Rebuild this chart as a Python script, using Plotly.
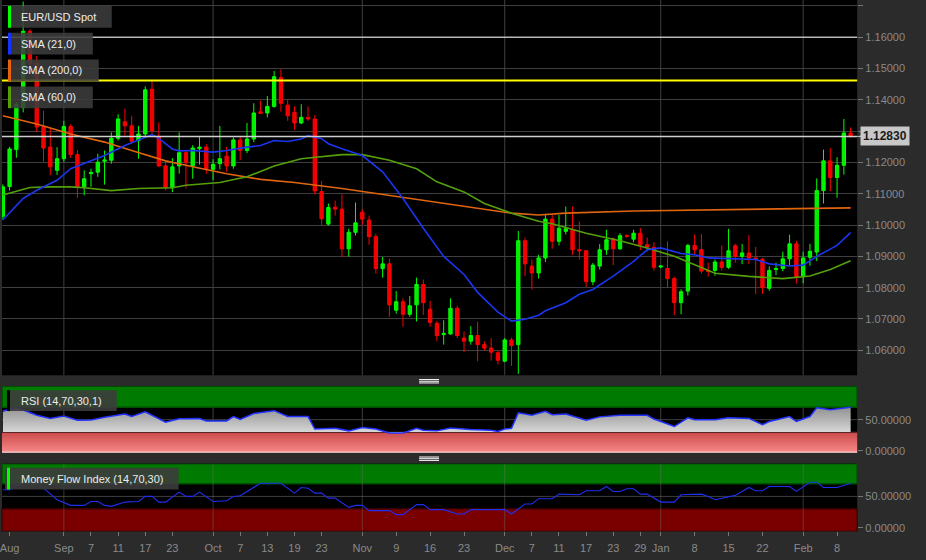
import plotly.graph_objects as go
import pandas as pd

# ---------------- data ----------------
dates = [d.strftime("%Y-%m-%d") for d in pd.bdate_range("2015-08-19", "2016-02-10")]

open_ = [1.1028, 1.1123, 1.1241, 1.1375, 1.1619, 1.1518, 1.1314, 1.1249, 1.1175, 1.1212,
         1.1315, 1.1225, 1.1122, 1.1164, 1.1169, 1.1204, 1.1207, 1.1277, 1.1330, 1.1317,
         1.1270, 1.1291, 1.1434, 1.1284, 1.1189, 1.1119, 1.1189, 1.1231, 1.1189, 1.1244,
         1.1249, 1.1178, 1.1196, 1.1220, 1.1189, 1.1272, 1.1238, 1.1275, 1.1362, 1.1358,
         1.1379, 1.1471, 1.1383, 1.1360, 1.1326, 1.1344, 1.1339, 1.1107, 1.1003, 1.1057,
         1.1051, 1.0924, 1.0977, 1.1041, 1.1016, 1.0963, 1.0861, 1.0876, 1.0728, 1.0755,
         1.0715, 1.0745, 1.0810, 1.0731, 1.0686, 1.0650, 1.0652, 1.0734, 1.0639, 1.0629,
         1.0647, 1.0618, 1.0607, 1.0592, 1.0565, 1.0633, 1.0618, 1.0950, 1.0869, 1.0847,
         1.0895, 1.1019, 1.0948, 1.0980, 1.0985, 1.0921, 1.0918, 1.0819, 1.0869, 1.0921,
         1.0956, 1.0924, 1.0966, 1.0955, 1.0974, 1.0937, 1.0929, 1.0866, 1.0861, 1.0829,
         1.0752, 1.0789, 1.0935, 1.0921, 1.0856, 1.0855, 1.0882, 1.0865, 1.0934, 1.0900,
         1.0911, 1.0895, 1.0890, 1.0798, 1.0858, 1.0861, 1.0892, 1.0940, 1.0835, 1.0897,
         1.0914, 1.1110, 1.1205, 1.1152, 1.1191, 1.1294]
high = [1.1130, 1.1250, 1.1392, 1.1714, 1.1626, 1.1540, 1.1365, 1.1312, 1.1249, 1.1333,
        1.1322, 1.1240, 1.1175, 1.1180, 1.1228, 1.1238, 1.1296, 1.1354, 1.1372, 1.1349,
        1.1317, 1.1443, 1.1460, 1.1328, 1.1200, 1.1214, 1.1296, 1.1240, 1.1255, 1.1281,
        1.1258, 1.1210, 1.1317, 1.1250, 1.1280, 1.1285, 1.1326, 1.1389, 1.1397, 1.1412,
        1.1492, 1.1497, 1.1400, 1.1379, 1.1386, 1.1379, 1.1351, 1.1141, 1.1069, 1.1078,
        1.1098, 1.0988, 1.1072, 1.1051, 1.1030, 1.0972, 1.0898, 1.0893, 1.0789, 1.0766,
        1.0773, 1.0832, 1.0826, 1.0758, 1.0694, 1.0696, 1.0766, 1.0742, 1.0660, 1.0677,
        1.0692, 1.0629, 1.0639, 1.0599, 1.0639, 1.0640, 1.0981, 1.0960, 1.0890, 1.0905,
        1.1032, 1.1032, 1.1032, 1.1059, 1.1059, 1.1011, 1.0920, 1.0879, 1.0939, 1.0985,
        1.0960, 1.0974, 1.0970, 1.0985, 1.0990, 1.0960, 1.0945, 1.0872, 1.0948, 1.0835,
        1.0795, 1.0940, 1.0970, 1.0971, 1.0880, 1.0890, 1.0935, 1.0988, 1.0940, 1.0940,
        1.0968, 1.0930, 1.0895, 1.0868, 1.0880, 1.0915, 1.0969, 1.0950, 1.0915, 1.0940,
        1.1149, 1.1241, 1.1246, 1.1217, 1.1339, 1.1312]
low = [1.1018, 1.1110, 1.1215, 1.1360, 1.1505, 1.1297, 1.1203, 1.1159, 1.1160, 1.1202,
       1.1215, 1.1087, 1.1095, 1.1122, 1.1154, 1.1129, 1.1196, 1.1270, 1.1286, 1.1259,
       1.1212, 1.1280, 1.1291, 1.1185, 1.1111, 1.1105, 1.1164, 1.1117, 1.1148, 1.1193,
       1.1164, 1.1143, 1.1178, 1.1170, 1.1180, 1.1207, 1.1230, 1.1265, 1.1355, 1.1344,
       1.1375, 1.1362, 1.1333, 1.1305, 1.1323, 1.1333, 1.1098, 1.0999, 1.0999, 1.1030,
       1.0897, 1.0899, 1.0967, 1.1000, 1.0937, 1.0845, 1.0832, 1.0707, 1.0717, 1.0675,
       1.0707, 1.0692, 1.0713, 1.0675, 1.0629, 1.0618, 1.0650, 1.0639, 1.0594, 1.0618,
       1.0565, 1.0599, 1.0567, 1.0555, 1.0562, 1.0550, 1.0524, 1.0837, 1.0794, 1.0829,
       1.0882, 1.0924, 1.0935, 1.0970, 1.0905, 1.0890, 1.0802, 1.0808, 1.0858, 1.0905,
       1.0872, 1.0921, 1.0960, 1.0945, 1.0920, 1.0915, 1.0855, 1.0862, 1.0800, 1.0712,
       1.0715, 1.0775, 1.0905, 1.0845, 1.0835, 1.0838, 1.0855, 1.0860, 1.0880, 1.0875,
       1.0875, 1.0779, 1.0780, 1.0790, 1.0840, 1.0852, 1.0870, 1.0813, 1.0814, 1.0870,
       1.0885, 1.1069, 1.1108, 1.1087, 1.1161, 1.1278]
close = [1.1122, 1.1243, 1.1386, 1.1619, 1.1518, 1.1313, 1.1246, 1.1186, 1.1212, 1.1315,
         1.1225, 1.1122, 1.1148, 1.1168, 1.1201, 1.1208, 1.1277, 1.1339, 1.1317, 1.1268,
         1.1291, 1.1432, 1.1302, 1.1189, 1.1119, 1.1186, 1.1231, 1.1199, 1.1246, 1.1249,
         1.1180, 1.1194, 1.1212, 1.1189, 1.1272, 1.1238, 1.1275, 1.1358, 1.1357, 1.1379,
         1.1474, 1.1389, 1.1349, 1.1326, 1.1344, 1.1339, 1.1109, 1.1020, 1.1056, 1.1051,
         1.0924, 1.0977, 1.1007, 1.1019, 1.0963, 1.0861, 1.0876, 1.0745, 1.0755, 1.0715,
         1.0742, 1.0810, 1.0752, 1.0689, 1.0647, 1.0654, 1.0734, 1.0647, 1.0629, 1.0647,
         1.0618, 1.0607, 1.0594, 1.0568, 1.0633, 1.0615, 1.0950, 1.0876, 1.0847, 1.0895,
         1.1019, 1.0948, 1.0990, 1.0988, 1.0921, 1.0918, 1.0819, 1.0872, 1.0921, 1.0953,
         1.0924, 1.0966, 1.0964, 1.0974, 1.0937, 1.0929, 1.0865, 1.0869, 1.0829, 1.0752,
         1.0787, 1.0935, 1.0921, 1.0853, 1.0852, 1.0882, 1.0865, 1.0918, 1.0900, 1.0911,
         1.0895, 1.0890, 1.0800, 1.0855, 1.0861, 1.0892, 1.0940, 1.0835, 1.0895, 1.0916,
         1.1110, 1.1205, 1.1152, 1.1191, 1.1294, 1.1283]

sma21_dates = ["2015-08-19", "2015-08-24", "2015-08-26", "2015-08-31", "2015-09-02", "2015-09-07",
               "2015-09-09", "2015-09-14", "2015-09-16", "2015-09-18", "2015-09-21", "2015-09-23",
               "2015-09-24", "2015-09-28", "2015-10-01", "2015-10-05", "2015-10-08", "2015-10-12",
               "2015-10-14", "2015-10-16", "2015-10-20", "2015-10-21", "2015-10-23", "2015-10-26",
               "2015-10-28", "2015-11-02", "2015-11-05", "2015-11-10", "2015-11-13", "2015-11-18",
               "2015-11-23", "2015-11-25", "2015-11-30", "2015-12-02", "2015-12-04", "2015-12-08",
               "2015-12-09", "2015-12-14", "2015-12-16", "2015-12-18", "2015-12-23", "2015-12-28",
               "2015-12-30", "2016-01-01", "2016-01-06", "2016-01-08", "2016-01-12", "2016-01-18",
               "2016-01-21", "2016-01-25", "2016-01-28", "2016-02-01", "2016-02-03", "2016-02-08",
               "2016-02-10"]
sma21_vals = [1.1016, 1.1085, 1.1111, 1.1143, 1.1180, 1.1204, 1.1222, 1.1254, 1.1272, 1.1289,
              1.1277, 1.1243, 1.1237, 1.1238, 1.1233, 1.1238, 1.1249, 1.1254, 1.1270, 1.1267,
              1.1275, 1.1286, 1.1276, 1.1260, 1.1244, 1.1222, 1.1170, 1.1085, 1.0990, 1.0900,
              1.0842, 1.0785, 1.0722, 1.0693, 1.0699, 1.0712, 1.0726, 1.0752, 1.0779, 1.0794,
              1.0837, 1.0884, 1.0921, 1.0927, 1.0909, 1.0905, 1.0895, 1.0893, 1.0890, 1.0876,
              1.0869, 1.0872, 1.0900, 1.0935, 1.0976]

sma60_dates = ["2015-08-19", "2015-08-21", "2015-08-25", "2015-08-28", "2015-09-02", "2015-09-04",
               "2015-09-10", "2015-09-16", "2015-09-23", "2015-09-25", "2015-10-02", "2015-10-08",
               "2015-10-14", "2015-10-20", "2015-10-26", "2015-10-28", "2015-11-02", "2015-11-06",
               "2015-11-12", "2015-11-17", "2015-11-23", "2015-11-26", "2015-12-02", "2015-12-08",
               "2015-12-10", "2015-12-17", "2015-12-24", "2015-12-30", "2016-01-05", "2016-01-11",
               "2016-01-13", "2016-01-20", "2016-01-27", "2016-02-02", "2016-02-05", "2016-02-10"]
sma60_vals = [1.1096, 1.1108, 1.1120, 1.1122, 1.1122, 1.1119, 1.1110, 1.1117, 1.1119, 1.1127,
              1.1136, 1.1154, 1.1189, 1.1212, 1.1220, 1.1225, 1.1225, 1.1207, 1.1180, 1.1138,
              1.1106, 1.1069, 1.1038, 1.1012, 1.1004, 1.0974, 1.0950, 1.0927, 1.0900, 1.0863,
              1.0846, 1.0836, 1.0829, 1.0837, 1.0858, 1.0886]

sma200_dates = ["2015-08-19", "2015-08-26", "2015-09-02", "2015-09-09", "2015-09-15", "2015-09-22",
                "2015-09-28", "2015-10-05", "2015-10-12", "2015-10-19", "2015-10-28", "2015-11-12",
                "2015-11-25", "2015-12-02", "2015-12-08", "2015-12-14", "2015-12-28", "2016-01-11",
                "2016-01-25", "2016-02-05", "2016-02-10"]
sma200_vals = [1.1349, 1.1323, 1.1291, 1.1265, 1.1238, 1.1205, 1.1186, 1.1164, 1.1146, 1.1136,
               1.1117, 1.1083, 1.1053, 1.1038, 1.1032, 1.1038, 1.1045, 1.1048, 1.1051, 1.1056,
               1.1055]

rsi_dates = ["2015-08-19", "2015-08-21", "2015-08-26", "2015-08-28", "2015-09-01", "2015-09-03",
             "2015-09-07", "2015-09-09", "2015-09-14", "2015-09-15", "2015-09-17", "2015-09-22",
             "2015-09-24", "2015-09-29", "2015-09-30", "2015-10-05", "2015-10-06", "2015-10-07",
             "2015-10-09", "2015-10-14", "2015-10-16", "2015-10-21", "2015-10-22", "2015-10-27",
             "2015-10-29", "2015-11-02", "2015-11-04", "2015-11-06", "2015-11-10", "2015-11-12",
             "2015-11-13", "2015-11-17", "2015-11-19", "2015-11-24", "2015-11-27", "2015-11-30",
             "2015-12-01", "2015-12-02", "2015-12-03", "2015-12-07", "2015-12-09", "2015-12-10",
             "2015-12-14", "2015-12-17", "2015-12-21", "2015-12-24", "2015-12-30", "2015-12-31",
             "2016-01-05", "2016-01-07", "2016-01-08", "2016-01-13", "2016-01-15", "2016-01-20",
             "2016-01-22", "2016-01-25", "2016-01-28", "2016-01-29", "2016-02-02", "2016-02-03",
             "2016-02-05", "2016-02-10"]
rsi_vals = [63.5, 70, 57, 52, 56, 49, 49.5, 54, 59, 55, 62.5, 46, 51.5, 52, 48, 48, 55, 50.5, 60,
            64.5, 55, 55, 35, 36, 32, 37.5, 35, 28.6, 28.6, 36, 33, 32, 36.5, 34, 33, 31, 35, 36,
            61, 57, 63.5, 58, 59, 49, 54.5, 57, 57, 51, 39, 53, 50, 50, 53, 52, 42, 47, 55, 47,
            55, 69, 66, 70]

mfi_dates = ["2015-08-19", "2015-08-20", "2015-08-24", "2015-08-26", "2015-08-31", "2015-09-02",
             "2015-09-04", "2015-09-07", "2015-09-08", "2015-09-09", "2015-09-10", "2015-09-14",
             "2015-09-16", "2015-09-17", "2015-09-18", "2015-09-21", "2015-09-22", "2015-09-24",
             "2015-09-25", "2015-09-28", "2015-09-29", "2015-10-01", "2015-10-05", "2015-10-06",
             "2015-10-07", "2015-10-12", "2015-10-15", "2015-10-19", "2015-10-20", "2015-10-21",
             "2015-10-22", "2015-10-23", "2015-10-26", "2015-10-27", "2015-10-29", "2015-10-30",
             "2015-11-02", "2015-11-03", "2015-11-06", "2015-11-09", "2015-11-10", "2015-11-12",
             "2015-11-13", "2015-11-16", "2015-11-18", "2015-11-20", "2015-11-23", "2015-11-24",
             "2015-12-01", "2015-12-02", "2015-12-04", "2015-12-07", "2015-12-08", "2015-12-10",
             "2015-12-11", "2015-12-16", "2015-12-17", "2015-12-21", "2015-12-22", "2015-12-23",
             "2015-12-24", "2015-12-25", "2015-12-28", "2015-12-29", "2015-12-30", "2016-01-01",
             "2016-01-05", "2016-01-06", "2016-01-11", "2016-01-12", "2016-01-13", "2016-01-15",
             "2016-01-18", "2016-01-20", "2016-01-21", "2016-01-22", "2016-01-25", "2016-01-28",
             "2016-01-29", "2016-02-02", "2016-02-03", "2016-02-04", "2016-02-08", "2016-02-10"]
mfi_vals = [60.6, 60.6, 72, 72.6, 44.8, 35.8, 35.8, 42, 42, 35.8, 34.2, 41, 42, 50, 50, 41, 41,
            56.8, 50, 50, 56.8, 42, 43.2, 50, 51, 71, 71, 55.2, 64.2, 63, 55.2, 55.2, 47.3, 47.3,
            32.6, 35.8, 35.8, 27.4, 27.4, 21.1, 21.1, 36.9, 36.9, 29, 29, 22.1, 22.1, 29, 29,
            22.1, 37.9, 37.9, 46.4, 46.4, 53.6, 52.6, 59, 59, 65.8, 57.9, 57.9, 62.1, 62.1, 53.6,
            53.6, 41, 41, 52.6, 53.6, 50, 44.8, 50, 51.6, 64.2, 59, 59, 65.8, 65.8, 57.9, 72.6,
            72.6, 64.2, 64.2, 71]

tick_dates = ["2015-08-20", "2015-09-01", "2015-09-07", "2015-09-11", "2015-09-17", "2015-09-23",
              "2015-10-01", "2015-10-07", "2015-10-13", "2015-10-19", "2015-10-23", "2015-11-02",
              "2015-11-09", "2015-11-16", "2015-11-23", "2015-12-01", "2015-12-07", "2015-12-11",
              "2015-12-17", "2015-12-23", "2015-12-29", "2016-01-01", "2016-01-08", "2016-01-15",
              "2016-01-22", "2016-02-01", "2016-02-08"]
tick_labels = ["Aug", "Sep", "7", "11", "17", "23", "Oct", "7", "13", "19", "23", "Nov", "9", "16",
               "23", "Dec", "7", "11", "17", "23", "29", "Jan", "8", "15", "22", "Feb", "8"]
month_starts = ["2015-09-01", "2015-10-01", "2015-11-02", "2015-12-01", "2016-01-01", "2016-02-01"]

price_ticks = [1.06, 1.07, 1.08, 1.09, 1.10, 1.11, 1.12, 1.13, 1.14, 1.15, 1.16, 1.17]
yellow_level = 1.1462
gray_level = 1.1600
last_price = 1.1283
osc_upper, osc_mid, osc_lower = 70, 50, 30

legend_items = ["EUR/USD Spot", "SMA (21,0)", "SMA (200,0)", "SMA (60,0)"]
rsi_label = "RSI (14,70,30,1)"
mfi_label = "Money Flow Index (14,70,30)"

# ---------------- styling helpers ----------------
W, H = 926, 560
FONT = "Liberation Sans, Arial, sans-serif"
def px(x):
    return x / W
def py(y):
    return 1 - y / H

GRID = "#3f3f3f"
TICKC = "#8a8a8a"

fig = go.Figure()

fig.add_trace(go.Candlestick(
    x=dates, open=open_, high=high, low=low, close=close,
    increasing=dict(line=dict(color="#00ff00", width=1), fillcolor="#00f000"),
    decreasing=dict(line=dict(color="#ff0000", width=1), fillcolor="#f00000"),
    whiskerwidth=0, xaxis="x", yaxis="y", hoverinfo="skip"))

fig.add_trace(go.Scatter(x=sma200_dates, y=sma200_vals, mode="lines",
                         line=dict(color="#e0650f", width=1.6), xaxis="x", yaxis="y"))
fig.add_trace(go.Scatter(x=sma60_dates, y=sma60_vals, mode="lines",
                         line=dict(color="#55a00a", width=1.6), xaxis="x", yaxis="y"))
fig.add_trace(go.Scatter(x=sma21_dates, y=sma21_vals, mode="lines",
                         line=dict(color="#1a36f0", width=1.6), xaxis="x", yaxis="y"))

# RSI: gray gradient area between the 30 line and the RSI line
fig.add_trace(go.Scatter(x=rsi_dates, y=[osc_lower] * len(rsi_dates), mode="lines",
                         line=dict(width=0), xaxis="x2", yaxis="y2", hoverinfo="skip"))
fig.add_trace(go.Scatter(x=rsi_dates, y=rsi_vals, mode="lines", fill="tonexty",
                         fillgradient=dict(type="vertical", start=osc_lower, stop=72,
                                           colorscale=[[0, "#d8d8d8"], [1, "#8e8e8e"]]),
                         line=dict(color="#2233ff", width=1.5), xaxis="x2", yaxis="y2"))

fig.add_trace(go.Scatter(x=mfi_dates, y=mfi_vals, mode="lines",
                         line=dict(color="#1f2ff0", width=1.1), xaxis="x3", yaxis="y3"))

common_x = dict(type="category", categoryorder="array", categoryarray=dates,
                range=[-0.12, len(dates) - 0.04], domain=[0, px(857)],
                showgrid=False, zeroline=False, showline=False, fixedrange=True)
common_osc_y = dict(side="right", tickmode="array", tickvals=[0, 50], tickformat=".5f",
                    ticks="outside", ticklen=5, tickcolor="#777777", showgrid=False,
                    zeroline=False, tickfont=dict(family=FONT, size=11, color=TICKC),
                    fixedrange=True)

fig.update_layout(
    width=W, height=H, margin=dict(l=0, r=0, t=0, b=0),
    paper_bgcolor="#2b2b2b", plot_bgcolor="#000000", showlegend=False,
    font=dict(family=FONT, size=11, color=TICKC),
    xaxis=dict(**common_x, anchor="y", showticklabels=False, rangeslider=dict(visible=False)),
    xaxis2=dict(**common_x, anchor="y2", matches="x", showticklabels=False),
    xaxis3=dict(**common_x, anchor="y3", matches="x", showticklabels=True,
                tickmode="array", tickvals=tick_dates, ticktext=tick_labels,
                ticks="outside", ticklen=4, tickcolor="#777777", tickangle=0,
                ticklabelstandoff=3,
                tickfont=dict(family=FONT, size=11, color=TICKC)),
    yaxis=dict(domain=[py(378), 1], range=[1.0520, 1.1719], side="right", anchor="x",
               tickmode="array", tickvals=price_ticks, tickformat=".5f",
               ticks="outside", ticklen=5, tickcolor="#777777",
               showgrid=True, gridcolor=GRID, gridwidth=1, zeroline=False,
               tickfont=dict(family=FONT, size=11, color=TICKC), fixedrange=True),
    yaxis2=dict(domain=[py(456), py(389)], range=[-3.2, 103.8], anchor="x2", **common_osc_y),
    yaxis3=dict(domain=[py(535), py(467)], range=[-5.2, 102], anchor="x3", **common_osc_y),
)

shapes = []
# RSI bands
shapes.append(dict(type="rect", xref="x2 domain", yref="y2", x0=0, x1=1, y0=osc_upper, y1=103.8,
                   fillcolor="#007a00", line=dict(color="#004f00", width=1.5), layer="below"))
n_strips = 16
top_c, bot_c = (204, 76, 76), (248, 136, 136)
lo, hi = -3.2, osc_lower
step = (hi - lo) / n_strips
for k in range(n_strips):
    f = k / (n_strips - 1)
    c = tuple(int(round(bot_c[j] + (top_c[j] - bot_c[j]) * f)) for j in range(3))
    y0 = lo + step * k
    y1 = min(hi, y0 + step * 1.6)
    shapes.append(dict(type="rect", xref="x2 domain", yref="y2", x0=0, x1=1, y0=y0, y1=y1,
                       fillcolor="rgb(%d,%d,%d)" % c, line=dict(width=0), layer="below"))
shapes.append(dict(type="line", xref="x2 domain", yref="y2", x0=0, x1=1, y0=osc_lower, y1=osc_lower,
                   line=dict(color="#3a1a1a", width=1.2), layer="below"))
shapes.append(dict(type="line", xref="x2 domain", yref="y2", x0=0, x1=1, y0=-2.6, y1=-2.6,
                   line=dict(color="#f0d0d0", width=1.5), layer="below"))
shapes.append(dict(type="line", xref="x2 domain", yref="y2", x0=0, x1=1, y0=osc_mid, y1=osc_mid,
                   line=dict(color=GRID, width=1), layer="below"))
# MFI bands
shapes.append(dict(type="rect", xref="x3 domain", yref="y3", x0=0, x1=1, y0=osc_upper, y1=102,
                   fillcolor="#007a00", line=dict(color="#004f00", width=1.5), layer="below"))
shapes.append(dict(type="rect", xref="x3 domain", yref="y3", x0=0, x1=1, y0=-5.2, y1=osc_lower,
                   fillcolor="#7a0000", line=dict(color="#4a0000", width=1.5), layer="below"))
shapes.append(dict(type="line", xref="x3 domain", yref="y3", x0=0, x1=1, y0=osc_mid, y1=osc_mid,
                   line=dict(color=GRID, width=1), layer="below"))
# month gridlines
for m in month_starts:
    shapes.append(dict(type="line", xref="x", yref="y domain", x0=m, x1=m, y0=0, y1=1,
                       line=dict(color=GRID, width=1), layer="below"))
    shapes.append(dict(type="line", xref="x2", yref="y2", x0=m, x1=m, y0=osc_lower, y1=osc_upper,
                       line=dict(color=GRID, width=1), layer="below"))
    shapes.append(dict(type="line", xref="x3", yref="y3", x0=m, x1=m, y0=-5.2, y1=102,
                       line=dict(color="rgba(110,110,110,0.45)", width=1), layer="below"))
# horizontal levels
shapes.append(dict(type="line", xref="x domain", yref="y", x0=0, x1=1, y0=gray_level, y1=gray_level,
                   line=dict(color="#b8b8b8", width=1.5)))
shapes.append(dict(type="line", xref="x domain", yref="y", x0=0, x1=1, y0=yellow_level, y1=yellow_level,
                   line=dict(color="#ffff00", width=2)))
shapes.append(dict(type="line", xref="x domain", yref="y", x0=0, x1=1, y0=last_price, y1=last_price,
                   line=dict(color="#d0d0d0", width=1.5)))

annotations = []
# main legend boxes
boxes = [(6, 28, 110, "#00ff00"), (33, 55, 91, "#1433ff"), (60, 82, 97, "#e8620c"), (87, 109, 91, "#58a000")]
for (t, b, r, col), txt in zip(boxes, legend_items):
    shapes.append(dict(type="rect", xref="paper", yref="paper", x0=px(9), x1=px(r), y0=py(b), y1=py(t),
                       fillcolor="rgba(60,60,60,0.88)", line=dict(width=0)))
    shapes.append(dict(type="rect", xref="paper", yref="paper", x0=px(6), x1=px(9), y0=py(b), y1=py(t),
                       fillcolor=col, line=dict(width=0)))
    annotations.append(dict(xref="paper", yref="paper", x=px(17), y=py((t + b) / 2), text=txt,
                            showarrow=False, xanchor="left", yanchor="middle",
                            font=dict(family=FONT, size=11, color="#ececec")))
# RSI legend
shapes.append(dict(type="rect", xref="paper", yref="paper", x0=px(5), x1=px(115), y0=py(414), y1=py(393),
                   fillcolor="rgba(60,60,60,0.9)", line=dict(width=0)))
shapes.append(dict(type="rect", xref="paper", yref="paper", x0=px(5), x1=px(8), y0=py(414), y1=py(393),
                   fillcolor="#000000", line=dict(width=0)))
annotations.append(dict(xref="paper", yref="paper", x=px(17), y=py(403.5), text=rsi_label,
                        showarrow=False, xanchor="left", yanchor="middle",
                        font=dict(family=FONT, size=11, color="#ececec")))
# MFI legend
shapes.append(dict(type="rect", xref="paper", yref="paper", x0=px(3), x1=px(177), y0=py(493), y1=py(471),
                   fillcolor="rgba(60,60,60,0.9)", line=dict(width=0)))
shapes.append(dict(type="rect", xref="paper", yref="paper", x0=px(5), x1=px(8), y0=py(493), y1=py(471),
                   fillcolor="#00ff00", line=dict(width=0)))
annotations.append(dict(xref="paper", yref="paper", x=px(17), y=py(482), text=mfi_label,
                        showarrow=False, xanchor="left", yanchor="middle",
                        font=dict(family=FONT, size=11, color="#ececec")))
# splitter grips
for yc in (384, 462):
    for dy in (-1.7, 0, 1.7):
        shapes.append(dict(type="line", xref="paper", yref="paper", x0=px(418), x1=px(438),
                           y0=py(yc + dy), y1=py(yc + dy), line=dict(color="#ffffff", width=1)))
# last price tag
shapes.append(dict(type="path", xref="paper", yref="y",
                   path="M %f,%f L %f,%f L %f,%f Z" % (px(855), last_price, px(861), last_price + 0.00028,
                                                      px(861), last_price - 0.00028),
                   fillcolor="#c8c8c8", line=dict(width=0)))
annotations.append(dict(xref="paper", yref="y", x=px(860), y=last_price, text="<b>1.12830</b>",
                        showarrow=False, xanchor="left", yanchor="middle", bgcolor="#c8c8c8",
                        borderpad=2, font=dict(family=FONT, size=12, color="#1a1a1a")))

fig.update_layout(shapes=shapes, annotations=annotations)

fig.write_html("out.html", config={"displayModeBar": False},
               post_script="document.body.style.margin='0';document.body.style.overflow='hidden';")
